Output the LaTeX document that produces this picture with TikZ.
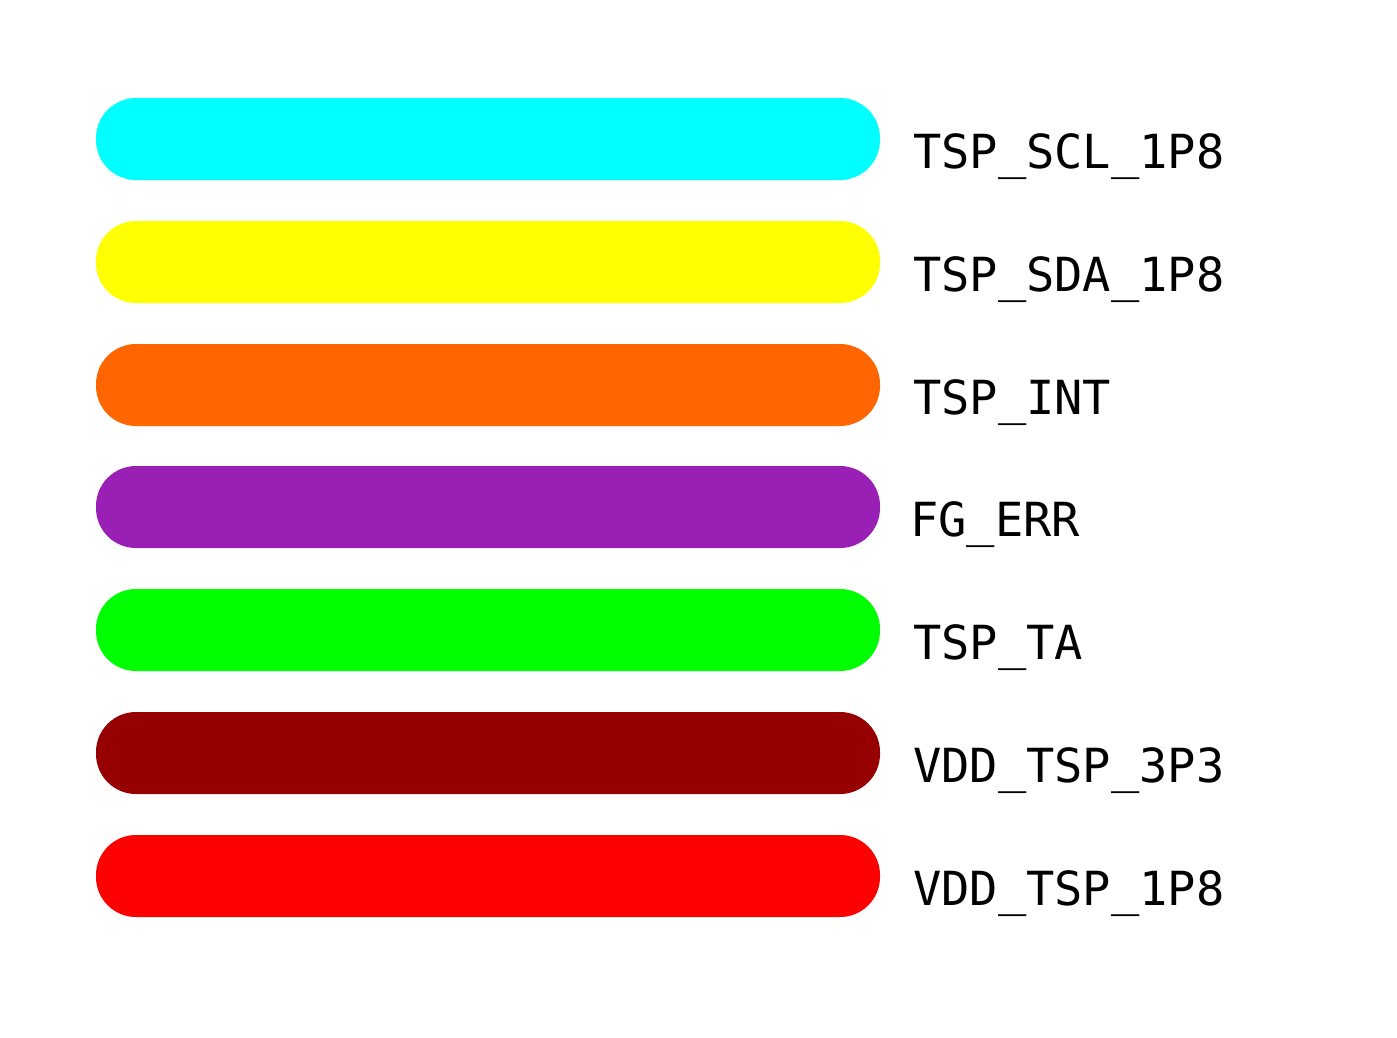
\documentclass[tikz,border=0pt]{standalone}
\usepackage{fontspec}
\setmonofont{DejaVu Sans Mono}
\definecolor{sigcyan}{HTML}{00FFFF}
\definecolor{sigyellow}{HTML}{FFFF00}
\definecolor{sigorange}{HTML}{FF6600}
\definecolor{sigpurple}{HTML}{9A1FB4}
\definecolor{siggreen}{HTML}{00FF00}
\definecolor{sigdarkred}{HTML}{960000}
\definecolor{sigred}{HTML}{FF0000}

\begin{document}
\begin{tikzpicture}[x=1pt,y=-1pt]
\tikzstyle{every node}+=[inner sep=0pt]
\tikzstyle{bar}=[minimum width=784pt, minimum height=82pt, rounded corners=40pt]
\tikzstyle{sig}=[anchor=base west, font=\ttfamily\fontsize{47}{47}\selectfont]
\useasboundingbox (0,0) rectangle (1397,1037);

\node [bar, fill=sigcyan] (scl) at (488,139) {};
\node [sig] (sclname) at (913,168) {TSP\_SCL\_1P8};

\node [bar, fill=sigyellow] (sda) at (488,262) {};
\node [sig] (sdaname) at (913,291) {TSP\_SDA\_1P8};

\node [bar, fill=sigorange] (int) at (488,385) {};
\node [sig] (intname) at (913,414) {TSP\_INT};

\node [bar, fill=sigpurple] (err) at (488,507) {};
\node [sig] (errname) at (910,536) {FG\_ERR};

\node [bar, fill=siggreen] (ta) at (488,630) {};
\node [sig] (taname) at (913,659) {TSP\_TA};

\node [bar, fill=sigdarkred] (vddhi) at (488,753) {};
\node [sig] (vddhiname) at (913,782) {VDD\_TSP\_3P3};

\node [bar, fill=sigred] (vddlo) at (488,876) {};
\node [sig] (vddloname) at (913,905) {VDD\_TSP\_1P8};
\end{tikzpicture}
\end{document}
